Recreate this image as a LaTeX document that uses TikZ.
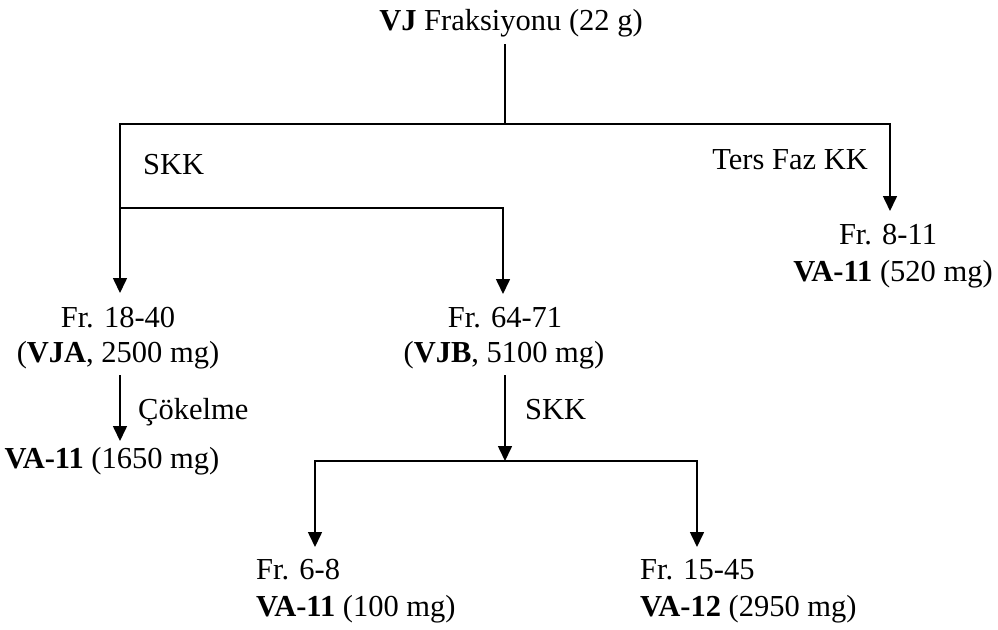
\documentclass[tikz,border=0pt]{standalone}
\usepackage{fontspec}
\setmainfont{Liberation Serif}
\usetikzlibrary{arrows.meta}
\begin{document}
\begin{tikzpicture}[x=1pt,y=-1pt,
  lbl/.style={inner sep=0pt, font=\fontsize{30.5}{36}\selectfont},
  ln/.style={line width=1.6pt, line cap=rect},
  arr/.style={line width=1.6pt, -{Triangle[width=14pt,length=15pt]}}]
\useasboundingbox (0,0) rectangle (998,629);

% text labels (anchored on their baselines)
\node[lbl, anchor=base] (top) at (511,30) {\textbf{VJ} Fraksiyonu (22 g)};
\node[lbl, anchor=base west] (skkA) at (143,174) {SKK};
\node[lbl, anchor=base east] (ters) at (868,169) {Ters Faz KK};
\node[lbl, anchor=base] (fr811) at (888,244) {Fr. 8-11};
\node[lbl, anchor=base] (va520) at (893,281) {\textbf{VA-11} (520 mg)};
\node[lbl, anchor=base] (fr1840) at (118,327) {Fr. 18-40};
\node[lbl, anchor=base] (vja) at (118,362) {(\textbf{VJA}, 2500 mg)};
\node[lbl, anchor=base west] (cok) at (138,419) {Çökelme};
\node[lbl, anchor=base] (va1650) at (112,468) {\textbf{VA-11} (1650 mg)};
\node[lbl, anchor=base] (fr6471) at (505,327) {Fr. 64-71};
\node[lbl, anchor=base] (vjb) at (504,362) {(\textbf{VJB}, 5100 mg)};
\node[lbl, anchor=base west] (skkB) at (525,419) {SKK};
\node[lbl, anchor=base west] (fr68) at (256,579) {Fr. 6-8};
\node[lbl, anchor=base west] (va100) at (256,616) {\textbf{VA-11} (100 mg)};
\node[lbl, anchor=base west] (fr1545) at (640,579) {Fr. 15-45};
\node[lbl, anchor=base west] (va2950) at (640,616) {\textbf{VA-12} (2950 mg)};

% junction points and arrow tips
\coordinate (s0) at (505,45);
\coordinate (j0) at (505,124);
\coordinate (jl) at (120,124);
\coordinate (jr) at (890,124);
\coordinate (jm) at (120,208);
\coordinate (jm2) at (503,208);
\coordinate (tA) at (120,293);
\coordinate (tB) at (503,294);
\coordinate (tR) at (890,211);
\coordinate (s1) at (120,375);
\coordinate (t1) at (120,441);
\coordinate (s2) at (505,375);
\coordinate (j2) at (505,461);
\coordinate (jl2) at (315,461);
\coordinate (jr2) at (697,461);
\coordinate (t2) at (315,547);
\coordinate (t3) at (697,547);

% first split
\draw[ln] (s0) -- (j0);
\draw[ln] (jl) -- (jr);
\draw[arr] (jl) -- (tA);
\draw[ln] (jm) -- (jm2);
\draw[arr] (jm2) -- (tB);
\draw[arr] (jr) -- (tR);

% precipitation step
\draw[arr] (s1) -- (t1);

% second column chromatography
\draw[arr] (s2) -- (j2);
\draw[ln] (jl2) -- (jr2);
\draw[arr] (jl2) -- (t2);
\draw[arr] (jr2) -- (t3);
\end{tikzpicture}
\end{document}
